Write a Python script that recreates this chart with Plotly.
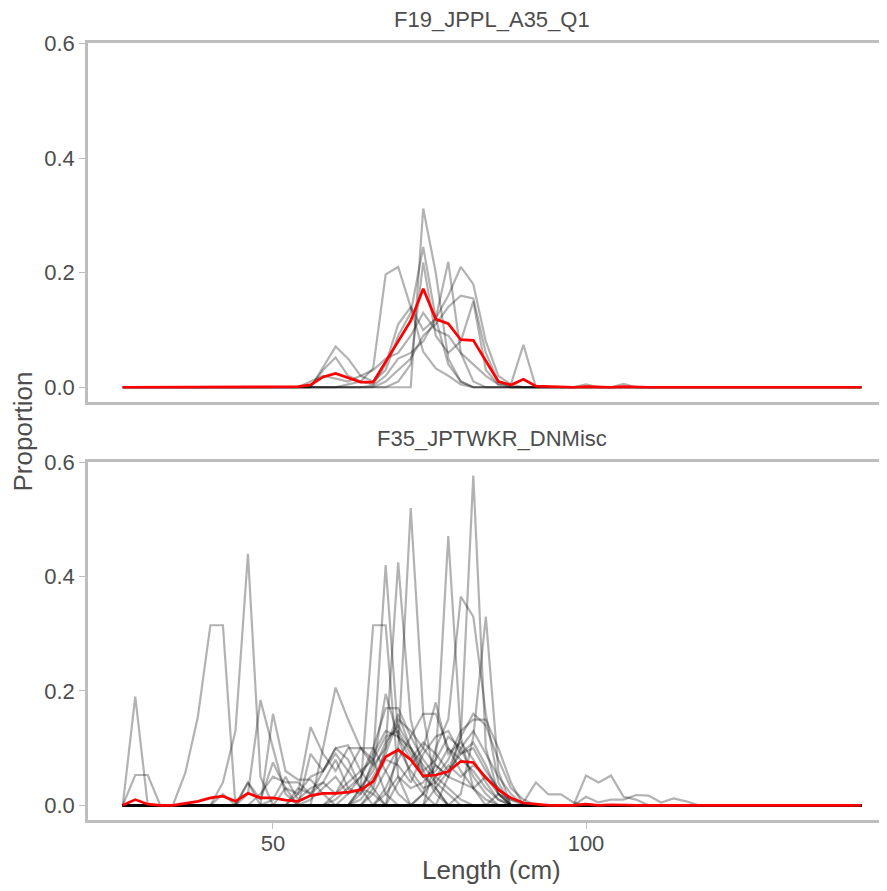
import plotly.graph_objects as go
from plotly.subplots import make_subplots

# length bins (cm)
length_bins = [26, 28, 30, 32, 34, 36, 38, 40, 42, 44, 46, 48, 50, 52, 54, 56, 58, 60,
               62, 64, 66, 68, 70, 72, 74, 76, 78, 80, 82, 84, 86, 88, 90, 92, 94, 96,
               98, 100, 102, 104, 106, 108, 110, 112, 114, 116, 118, 120, 122, 124, 126,
               128, 130, 132, 134, 136, 138, 140, 142, 144]

panel_titles = ["F19_JPPL_A35_Q1", "F35_JPTWKR_DNMisc"]

# mean composition (red); bins not listed are 0
top_mean = {48: 0.001, 54: 0.001, 56: 0.004, 58: 0.018, 60: 0.024, 62: 0.017, 64: 0.009,
            66: 0.009, 68: 0.045, 70: 0.08, 72: 0.116, 74: 0.172, 76: 0.119, 78: 0.111,
            80: 0.083, 82: 0.082, 84: 0.045, 86: 0.01, 88: 0.004, 90: 0.014, 92: 0.002,
            94: 0.001, 100: 0.001, 106: 0.001}

bottom_mean = {28: 0.01, 30: 0.002, 36: 0.004, 38: 0.007, 40: 0.013, 42: 0.016, 44: 0.007,
               46: 0.021, 48: 0.013, 50: 0.013, 52: 0.009, 54: 0.007, 56: 0.017, 58: 0.021,
               60: 0.021, 62: 0.023, 64: 0.027, 66: 0.042, 68: 0.085, 70: 0.097, 72: 0.08,
               74: 0.051, 76: 0.053, 78: 0.059, 80: 0.077, 82: 0.075, 84: 0.048, 86: 0.027,
               88: 0.013, 90: 0.004, 92: 0.002, 100: 0.002, 104: 0.001}

# individual samples (grey)
top_samples = [
    {74: 0.312, 76: 0.20, 78: 0.05, 80: 0.01},
    {58: 0.035, 60: 0.071, 62: 0.05, 64: 0.02, 66: 0.01, 68: 0.03, 70: 0.09, 72: 0.13,
     74: 0.245, 76: 0.12, 78: 0.04, 80: 0.01},
    {62: 0.005, 64: 0.01, 66: 0.033, 68: 0.197, 70: 0.21, 72: 0.14, 74: 0.062, 76: 0.033,
     78: 0.02, 80: 0.005},
    {58: 0.03, 60: 0.052, 62: 0.02, 64: 0.01, 66: 0.005, 68: 0.04, 70: 0.11, 72: 0.14,
     74: 0.1, 76: 0.12, 78: 0.219, 80: 0.06, 82: 0.01},
    {66: 0.003, 68: 0.02, 70: 0.05, 72: 0.06, 74: 0.08, 76: 0.12, 78: 0.16, 80: 0.21,
     82: 0.18, 84: 0.08, 86: 0.02, 88: 0.005, 100: 0.005},
    {68: 0.01, 70: 0.03, 72: 0.05, 74: 0.09, 76: 0.11, 78: 0.14, 80: 0.16, 82: 0.155,
     84: 0.06, 86: 0.01},
    {70: 0.01, 72: 0.04, 74: 0.218, 76: 0.09, 78: 0.06, 80: 0.08, 82: 0.15, 84: 0.03,
     86: 0.005},
    {56: 0.01, 58: 0.02, 60: 0.015, 62: 0.01, 64: 0.02, 66: 0.03, 68: 0.05, 70: 0.06,
     72: 0.09, 74: 0.13, 76: 0.1, 78: 0.09, 80: 0.06, 82: 0.04, 84: 0.02, 86: 0.005,
     88: 0.005, 90: 0.074, 106: 0.006},
]

bottom_samples = [
    {28: 0.19},
    {28: 0.053, 30: 0.053},
    {36: 0.057, 38: 0.155, 40: 0.315, 42: 0.315},
    {42: 0.04, 44: 0.13, 46: 0.44, 48: 0.05},
    {46: 0.02, 48: 0.184, 50: 0.1, 52: 0.02},
    {50: 0.16, 52: 0.06, 54: 0.045, 56: 0.045, 58: 0.02},
    {46: 0.04, 48: 0.01, 50: 0.075, 52: 0.03},
    {54: 0.02, 56: 0.137, 58: 0.09, 60: 0.06, 62: 0.1, 64: 0.1, 66: 0.1, 68: 0.06, 70: 0.02},
    {58: 0.1, 60: 0.206, 62: 0.15, 64: 0.1, 66: 0.08, 68: 0.02},
    {56: 0.09, 58: 0.06, 60: 0.1, 62: 0.105, 64: 0.06, 66: 0.03},
    {64: 0.03, 66: 0.315, 68: 0.315, 70: 0.05},
    {64: 0.02, 66: 0.08, 68: 0.42, 70: 0.12, 72: 0.05, 74: 0.02},
    {66: 0.03, 68: 0.1, 70: 0.425, 72: 0.15, 74: 0.06, 76: 0.02},
    {70: 0.1, 72: 0.52, 74: 0.16, 76: 0.03},
    {76: 0.08, 78: 0.471, 80: 0.12, 82: 0.03},
    {78: 0.05, 80: 0.12, 82: 0.577, 84: 0.1, 86: 0.02},
    {74: 0.02, 76: 0.1, 78: 0.15, 80: 0.365, 82: 0.33, 84: 0.16, 86: 0.04},
    {80: 0.02, 82: 0.12, 84: 0.33, 86: 0.06},
    {62: 0.02, 64: 0.05, 66: 0.1, 68: 0.17, 70: 0.17, 72: 0.12, 74: 0.08, 76: 0.05,
     78: 0.03, 80: 0.01},
    {64: 0.03, 66: 0.07, 68: 0.195, 70: 0.12, 72: 0.1, 74: 0.05, 76: 0.03},
    {68: 0.03, 70: 0.08, 72: 0.12, 74: 0.16, 76: 0.16, 78: 0.1, 80: 0.06, 82: 0.03, 84: 0.01},
    {70: 0.04, 72: 0.07, 74: 0.1, 76: 0.18, 78: 0.09, 80: 0.11, 82: 0.08, 84: 0.04, 86: 0.01},
    {74: 0.02, 76: 0.05, 78: 0.08, 80: 0.13, 82: 0.15, 84: 0.15, 86: 0.1, 88: 0.04},
    {76: 0.03, 78: 0.06, 80: 0.12, 82: 0.16, 84: 0.14, 86: 0.08, 88: 0.03, 90: 0.01},
    {60: 0.02, 62: 0.04, 64: 0.06, 66: 0.08, 68: 0.12, 70: 0.13, 72: 0.09, 74: 0.05,
     76: 0.06, 78: 0.1, 80: 0.08, 82: 0.06, 84: 0.03, 86: 0.01},
    {66: 0.02, 68: 0.06, 70: 0.1, 72: 0.06, 74: 0.03, 76: 0.04, 78: 0.07, 80: 0.05,
     82: 0.07, 84: 0.05, 86: 0.02},
    {56: 0.01, 58: 0.03, 60: 0.05, 62: 0.02, 64: 0.03, 66: 0.06, 68: 0.11, 70: 0.14,
     72: 0.1, 74: 0.07, 76: 0.04, 78: 0.02},
    {48: 0.02, 50: 0.05, 52: 0.04, 54: 0.04, 56: 0.02, 58: 0.06, 60: 0.09, 62: 0.06,
     64: 0.1, 66: 0.07, 68: 0.1, 70: 0.16, 72: 0.1, 74: 0.06, 76: 0.08, 78: 0.12, 80: 0.1,
     82: 0.05, 84: 0.02},
    {54: 0.03, 56: 0.02, 58: 0.04, 60: 0.08, 62: 0.03, 64: 0.05, 66: 0.09, 68: 0.13,
     70: 0.12, 72: 0.08, 74: 0.11, 76: 0.09, 78: 0.06, 80: 0.09, 82: 0.11, 84: 0.07, 86: 0.02},
    {60: 0.01, 62: 0.03, 64: 0.02, 66: 0.05, 68: 0.09, 70: 0.15, 72: 0.13, 74: 0.1,
     76: 0.07, 78: 0.05, 80: 0.1, 82: 0.13, 84: 0.09, 86: 0.05, 88: 0.02},
    {64: 0.01, 66: 0.04, 68: 0.08, 70: 0.07, 72: 0.04, 74: 0.09, 76: 0.12, 78: 0.13,
     80: 0.09, 82: 0.1, 84: 0.06, 86: 0.03},
    {68: 0.02, 70: 0.05, 72: 0.03, 74: 0.04, 76: 0.07, 78: 0.05, 80: 0.04, 82: 0.03,
     84: 0.05, 86: 0.03, 88: 0.01},
    {50: 0.01, 52: 0.05, 54: 0.01, 56: 0.03, 58: 0.04, 60: 0.02, 62: 0.06, 64: 0.03, 66: 0.02},
    {86: 0.02, 88: 0.01, 90: 0.005, 92: 0.04, 94: 0.019, 96: 0.019, 98: 0.005},
    {100: 0.052, 102: 0.04, 104: 0.052, 106: 0.015, 108: 0.01},
    {100: 0.015, 102: 0.005, 104: 0.01, 106: 0.01, 108: 0.018, 110: 0.017, 112: 0.005,
     114: 0.012, 116: 0.007},
    {42: 0.02, 46: 0.04},
    {52: 0.03, 54: 0.02, 56: 0.05, 58: 0.06, 60: 0.1, 62: 0.08, 64: 0.03},
]


def expand(points):
    return [points.get(b, 0.0) for b in length_bins]


GREY = "rgba(0,0,0,0.3)"
TEXT = "#4d4d4d"
AXIS = "#bdbdbd"
FONT = "Liberation Sans, Arial, sans-serif"

fig = make_subplots(rows=2, cols=1, shared_xaxes=True)

for row, (samples, mean) in enumerate([(top_samples, top_mean),
                                       (bottom_samples, bottom_mean)], start=1):
    for s in samples:
        fig.add_trace(go.Scatter(x=length_bins, y=expand(s), mode="lines",
                                 line=dict(color=GREY, width=2.2), showlegend=False,
                                 hoverinfo="skip"), row=row, col=1)
    fig.add_trace(go.Scatter(x=length_bins, y=expand(mean), mode="lines",
                             line=dict(color="red", width=2.7), showlegend=False),
                  row=row, col=1)

# page body adds an 8px offset, so the panel runs past the right edge as in the original
yr = [-0.0257, 0.601]
xr = [20.45, 149.36]

yaxis_style = dict(range=yr, showgrid=False, zeroline=False, showline=True,
                   linecolor=AXIS, linewidth=2.5, tickvals=[0, 0.2, 0.4, 0.6],
                   tickformat=".1f", ticks="outside", ticklen=6, tickcolor=AXIS,
                   tickfont=dict(size=22, color=TEXT))

fig.update_layout(
    width=887, height=891,
    margin=dict(l=80, r=0, t=35, b=79),
    plot_bgcolor="white", paper_bgcolor="white",
    font=dict(family=FONT, color=TEXT),
    xaxis=dict(domain=[0, 1], anchor="y", range=xr, showgrid=False, zeroline=False,
               showline=True, mirror=True, linecolor=AXIS, linewidth=2.5,
               showticklabels=False, ticks=""),
    xaxis2=dict(domain=[0, 1], anchor="y2", range=xr, showgrid=False, zeroline=False,
                showline=True, mirror=True, linecolor=AXIS, linewidth=2.5,
                tickvals=[50, 100], ticks="outside", ticklen=6, tickcolor=AXIS,
                ticklabelstandoff=-4, tickfont=dict(size=22, color=TEXT)),
    yaxis=dict(domain=[0.538, 1], **yaxis_style),
    yaxis2=dict(domain=[0, 0.4611], **yaxis_style),
)

# strip labels
for title, ytop in zip(panel_titles, [1.0, 0.4611]):
    fig.add_annotation(text=title, xref="paper", yref="paper", x=0.5, y=ytop,
                       yanchor="bottom", yshift=9, showarrow=False,
                       font=dict(size=22, color=TEXT))

# axis titles
fig.add_annotation(text="Length (cm)", xref="paper", yref="paper", x=0.5, y=0,
                   yanchor="middle", yshift=-50, showarrow=False,
                   font=dict(size=26, color=TEXT))
fig.add_annotation(text="Proportion", xref="paper", yref="paper", x=0, y=0.5,
                   xanchor="center", xshift=-66, textangle=-90, showarrow=False,
                   font=dict(size=26, color=TEXT))

fig.write_html("out.html")
